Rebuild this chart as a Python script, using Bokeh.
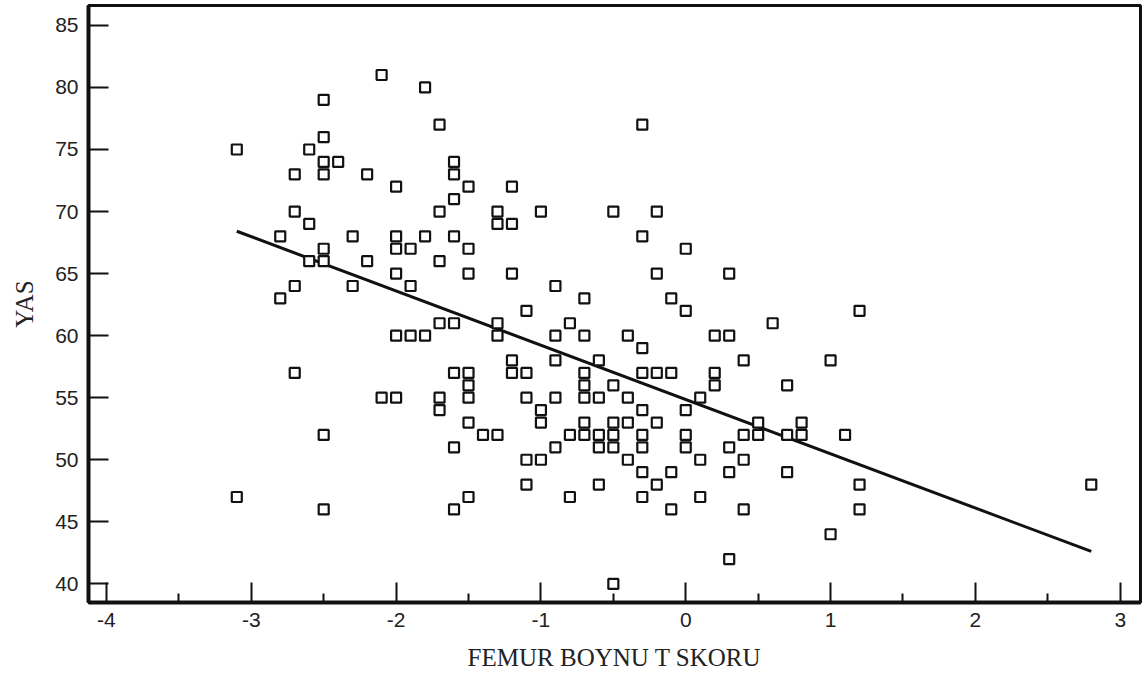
import numpy as np
from bokeh.plotting import figure
from bokeh.models import Range1d, FixedTicker
from bokeh.embed import file_html
from bokeh.resources import INLINE

# T-score (x) groups and ages (y)
t_scores = [-3.1, -2.8, -2.7, -2.6, -2.5, -2.4, -2.3, -2.2, -2.1, -2.0, -1.9, -1.8, -1.7,
            -1.6, -1.5, -1.4, -1.3, -1.2, -1.1, -1.0, -0.9, -0.8, -0.7, -0.6, -0.5, -0.4,
            -0.3, -0.2, -0.1, 0.0, 0.1, 0.2, 0.3, 0.4, 0.5, 0.6, 0.7, 0.8, 1.0, 1.1, 1.2, 2.8]
ages_at_t = [
    [75, 47],
    [68, 63],
    [73, 70, 64, 57],
    [75, 69, 66],
    [79, 76, 74, 73, 67, 66, 52, 46],
    [74],
    [68, 64],
    [73, 66],
    [81, 55],
    [72, 68, 67, 65, 60, 55],
    [67, 64, 60],
    [80, 68, 60],
    [77, 70, 66, 61, 55, 54],
    [74, 73, 71, 68, 61, 57, 51, 46],
    [72, 67, 65, 57, 56, 55, 53, 47],
    [52],
    [70, 69, 61, 60, 52],
    [72, 69, 65, 58, 57],
    [62, 57, 55, 50, 48],
    [70, 54, 53, 50],
    [64, 60, 58, 55, 51],
    [61, 52, 47],
    [63, 60, 57, 56, 55, 53, 52],
    [58, 55, 52, 51, 48],
    [70, 56, 53, 52, 51, 40],
    [60, 55, 53, 50],
    [77, 68, 59, 57, 54, 52, 51, 49, 47],
    [70, 65, 57, 53, 48],
    [63, 57, 49, 46],
    [67, 62, 54, 52, 51],
    [55, 50, 47],
    [60, 57, 56],
    [65, 60, 51, 49, 42],
    [58, 52, 50, 46],
    [53, 52],
    [61],
    [56, 52, 49],
    [53, 52],
    [58, 44],
    [52],
    [62, 48, 46],
    [48],
]
x_ticks = [-4, -3, -2, -1, 0, 1, 2, 3]
x_tick_labels = ["-4", "-3", "-2", "-1", "0", "1", "2", "3"]
x_minor = [-3.5, -2.5, -1.5, -0.5, 0.5, 1.5, 2.5]
y_ticks = [40, 45, 50, 55, 60, 65, 70, 75, 80, 85]

xs = [t for t, ys in zip(t_scores, ages_at_t) for _ in ys]
ys = [a for ys_ in ages_at_t for a in ys_]

p = figure(width=1148, height=683, output_backend="svg", toolbar_location=None,
           x_range=Range1d(-4.124, 3.14), y_range=Range1d(38.5, 86.6),
           min_border_left=88, min_border_right=8, min_border_top=5, min_border_bottom=81)
p.background_fill_color = "white"
p.border_fill_color = "white"
p.grid.visible = False
p.outline_line_color = "#111111"
p.outline_line_width = 3

# regression line (least squares fit on the data)
slope, intercept = np.polyfit(xs, ys, 1)
lx = np.array([min(xs), max(xs)])
p.line(lx, intercept + slope * lx, line_color="#111111", line_width=3)

p.scatter(xs, ys, marker="square", size=10, fill_color="white",
          line_color="#111111", line_width=2.2)

for ax in (p.xaxis[0], p.yaxis[0]):
    ax.axis_line_width = 4
    ax.axis_line_color = "#111111"
    ax.major_tick_in = 20
    ax.major_tick_out = 0
    ax.major_tick_line_width = 2
    ax.major_tick_line_color = "#111111"
    ax.minor_tick_line_width = 2
    ax.minor_tick_line_color = "#111111"
    ax.major_label_text_font = "Liberation Sans"
    ax.major_label_text_font_size = "21px"
    ax.major_label_text_color = "#222222"
    ax.axis_label_text_font = "Liberation Serif"
    ax.axis_label_text_font_style = "normal"
    ax.axis_label_text_color = "#222222"
    ax.axis_label_text_font_size = "25px"

p.xaxis.ticker = FixedTicker(ticks=x_ticks, minor_ticks=x_minor)
p.xaxis.major_label_overrides = {t: s for t, s in zip(x_ticks, x_tick_labels)}
p.xaxis.minor_tick_in = 9
p.xaxis.minor_tick_out = 0
p.xaxis.major_label_standoff = 10
p.xaxis.axis_label = "FEMUR BOYNU T SKORU"
p.xaxis.axis_label_standoff = 14

p.yaxis.ticker = FixedTicker(ticks=y_ticks, minor_ticks=[])
p.yaxis.minor_tick_in = 0
p.yaxis.minor_tick_out = 0
p.yaxis.major_label_standoff = 10
p.yaxis.axis_label = "YAS"
p.yaxis.axis_label_standoff = 14

open("out.html", "w").write(file_html(p, INLINE))
